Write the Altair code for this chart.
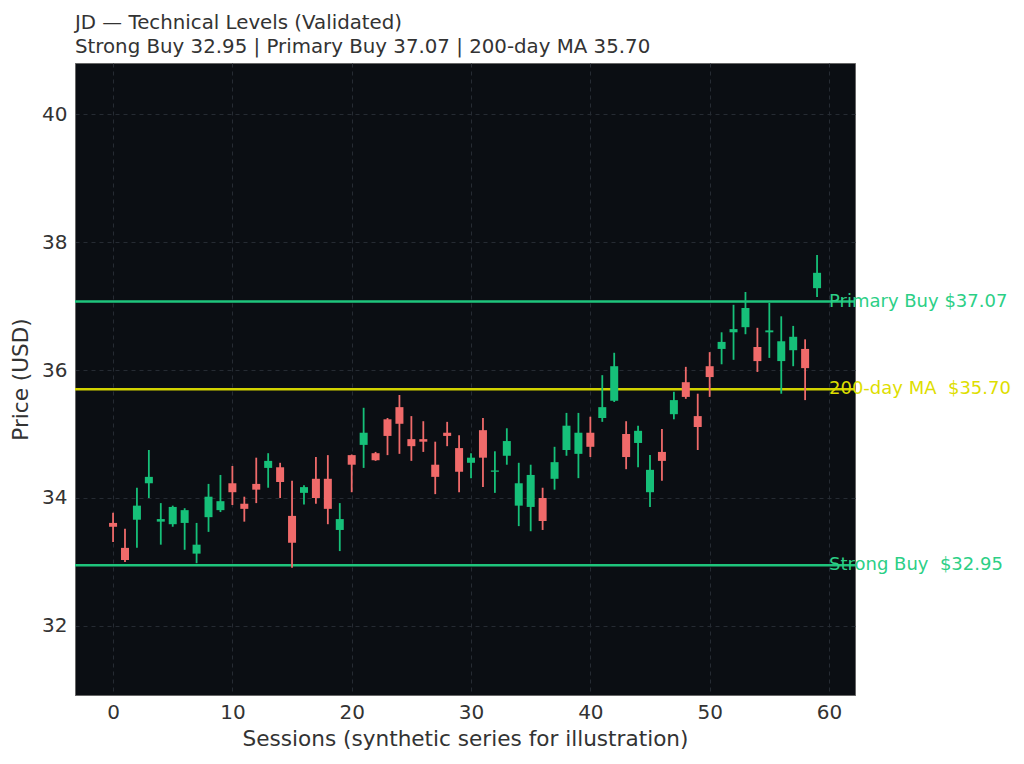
import altair as alt
import pandas as pd

sessions = list(range(60))
opens = [33.61, 33.22, 33.66, 34.23, 33.63, 33.59, 33.61, 33.13, 33.70, 33.81,
         34.23, 33.91, 34.22, 34.47, 34.48, 33.72, 34.08, 34.30, 34.30, 33.50,
         34.67, 34.83, 34.70, 35.23, 35.42, 34.92, 34.92, 34.52, 35.02, 34.78,
         34.55, 35.06, 34.41, 34.66, 33.88, 33.86, 34.00, 34.30, 34.75, 34.69,
         35.02, 35.25, 35.52, 35.00, 34.86, 34.09, 34.72, 35.31, 35.81, 35.28,
         36.06, 36.33, 36.59, 36.67, 36.36, 36.59, 36.14, 36.31, 36.33, 37.28]
closes = [33.55, 33.03, 33.88, 34.33, 33.67, 33.86, 33.81, 33.27, 34.02, 33.95,
          34.09, 33.83, 34.13, 34.58, 34.25, 33.30, 34.17, 34.00, 33.83, 33.67,
          34.52, 35.02, 34.59, 34.97, 35.16, 34.81, 34.88, 34.33, 34.97, 34.41,
          34.63, 34.63, 34.43, 34.89, 34.23, 34.36, 33.64, 34.56, 35.13, 35.02,
          34.80, 35.42, 36.06, 34.64, 35.05, 34.44, 34.58, 35.53, 35.58, 35.11,
          35.89, 36.44, 36.64, 36.97, 36.14, 36.62, 36.45, 36.52, 36.03, 37.52]
highs = [33.77, 33.52, 34.16, 34.75, 33.92, 33.88, 33.84, 33.61, 34.22, 34.36,
         34.50, 34.02, 34.63, 34.70, 34.55, 34.27, 34.20, 34.64, 34.67, 33.92,
         34.68, 35.41, 34.72, 35.25, 35.61, 35.28, 35.20, 34.88, 35.19, 34.98,
         34.70, 35.25, 34.73, 35.09, 34.55, 34.52, 34.16, 34.80, 35.33, 35.33,
         35.27, 35.92, 36.27, 35.20, 35.13, 34.67, 35.08, 35.66, 36.05, 35.63,
         36.28, 36.59, 37.02, 37.22, 36.66, 37.05, 36.84, 36.69, 36.48, 37.80]
lows = [33.31, 33.00, 33.22, 34.00, 33.27, 33.55, 33.19, 32.98, 33.47, 33.78,
        33.89, 33.63, 33.92, 34.16, 34.00, 32.91, 33.90, 33.91, 33.59, 33.17,
        34.09, 34.47, 34.58, 34.67, 34.69, 34.58, 34.72, 34.06, 34.81, 34.09,
        34.31, 34.17, 34.08, 34.52, 33.56, 33.48, 33.50, 34.13, 34.66, 34.31,
        34.64, 35.19, 35.50, 34.45, 34.48, 33.86, 34.27, 35.23, 35.55, 34.75,
        35.58, 36.09, 36.16, 36.56, 35.97, 36.19, 35.63, 36.06, 35.53, 37.14]

level_names = ["Primary Buy $37.07", "200-day MA \u00a0$35.70", "Strong Buy \u00a0$32.95"]
level_values = [37.07, 35.70, 32.95]
level_colors = ["#1fc47c", "#d2d200", "#1fc47c"]
level_text_colors = ["#2ccf86", "#dede00", "#2ccf86"]

df = pd.DataFrame({"session": sessions, "open": opens, "close": closes,
                   "high": highs, "low": lows})
df["dir"] = ["up" if c >= o else "down" for o, c in zip(opens, closes)]

lv = pd.DataFrame({"name": level_names, "value": level_values,
                   "lc": level_colors, "tc": level_text_colors,
                   "xpos": [60] * 3})

xscale = alt.Scale(domain=[-3.19, 62.18], nice=False, zero=False, padding=0)
yscale = alt.Scale(domain=[30.92, 40.8], nice=False, zero=False, padding=0)
color = alt.Color("dir:N", scale=alt.Scale(domain=["up", "down"],
                                           range=["#16c079", "#f06a6a"]), legend=None)

xaxis = alt.Axis(values=[0, 10, 20, 30, 40, 50, 60], format="d",
                 title="Sessions (synthetic series for illustration)",
                 grid=True, gridDash=[4, 4], gridColor="#262b33", gridWidth=1,
                 ticks=False, labelFontSize=20, titleFontSize=21.6, labelPadding=7,
                 titlePadding=6, labelColor="#333333", titleColor="#333333",
                 domainColor="#666666", titleFontWeight="normal", labelFlush=False,
                 labelFont="DejaVu Sans", titleFont="DejaVu Sans")
yaxis = alt.Axis(values=[32, 34, 36, 38, 40], format="d", title="Price (USD)",
                 grid=True, gridDash=[4, 4], gridColor="#262b33", gridWidth=1,
                 ticks=False, labelFontSize=20, titleFontSize=21.6, labelPadding=8,
                 titlePadding=9, labelColor="#333333", titleColor="#333333",
                 domainColor="#666666", titleFontWeight="normal", labelFlush=False,
                 labelFont="DejaVu Sans", titleFont="DejaVu Sans")

base = alt.Chart(df)

wicks = base.mark_rule(strokeWidth=1.8).encode(
    x=alt.X("session:Q", scale=xscale, axis=xaxis),
    y=alt.Y("low:Q", scale=yscale, axis=yaxis),
    y2="high:Q",
    color=color,
)

bodies = base.mark_bar(size=8).encode(
    x=alt.X("session:Q", scale=xscale),
    y=alt.Y("open:Q", scale=yscale),
    y2="close:Q",
    color=color,
)

lines = alt.Chart(lv).mark_rule(strokeWidth=2.5).encode(
    y=alt.Y("value:Q", scale=yscale),
    color=alt.Color("lc:N", scale=None),
)

labels = alt.Chart(lv).mark_text(align="left", baseline="middle", fontSize=18,
                                 font="DejaVu Sans", clip=False).encode(
    x=alt.X("xpos:Q", scale=xscale),
    y=alt.Y("value:Q", scale=yscale),
    text="name:N",
    color=alt.Color("tc:N", scale=None),
)

chart = alt.layer(lines, wicks, bodies, labels).properties(
    width=780, height=632,
    padding={"left": 2, "top": 5, "right": 5, "bottom": 5},
    title=alt.TitleParams(
        text=["JD — Technical Levels (Validated)",
              "Strong Buy 32.95 | Primary Buy 37.07 | 200-day MA 35.70"],
        anchor="start", frame="group", fontSize=19.8, fontWeight="normal",
        color="#333333", font="DejaVu Sans", lineHeight=24, offset=6),
).configure(
    font="DejaVu Sans", background="white",
    view=alt.ViewConfig(fill="#0b0e13", stroke="#666666", strokeWidth=1),
)

chart.save("out.html", embed_options={"renderer": "svg", "actions": False})
